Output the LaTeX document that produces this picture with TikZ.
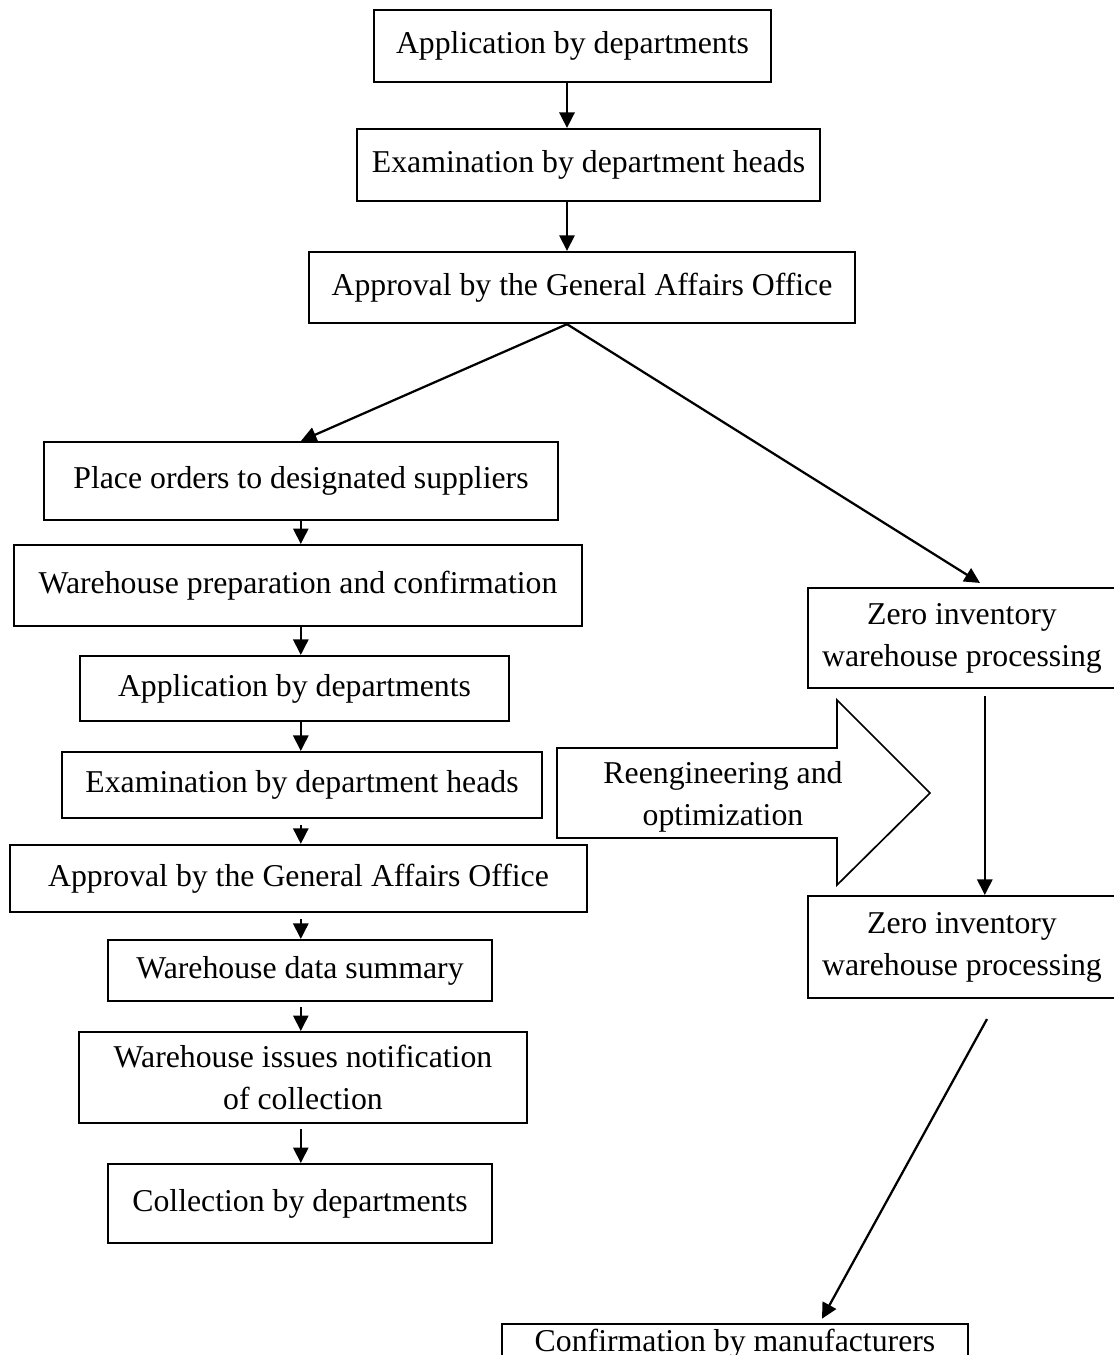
\documentclass[tikz,border=0pt]{standalone}
\usepackage{fontspec}
\setmainfont{Liberation Serif}
\usepackage{tikz}
\usetikzlibrary{arrows.meta, positioning, calc}

\tikzset{
    stepbox/.style={draw=black, line width=0.75pt, align=center, inner sep=2pt},
    flow/.style={-{Triangle[length=5.5pt, width=5.4pt]}, line width=0.8pt},
}

\begin{document}
\begin{tikzpicture}[font=\fontsize{11.3pt}{15pt}\selectfont]
                \useasboundingbox (0,0) rectangle (13.925,-16.9375);

                % --- Old process (top) ---
                \node[stepbox, minimum width=4.96cm, minimum height=0.9cm] (app) at (7.156,-0.57) {Application by departments};
                \node[stepbox, minimum width=5.79cm, minimum height=0.9cm] (exam) at (7.356,-2.0625) {Examination by department heads};
                \node[stepbox, minimum width=6.825cm, minimum height=0.89cm] (appr) at (7.275,-3.594) {Approval by the General Affairs Office};
                \coordinate (topcol) at (7.0875,0);

                \draw[flow] (topcol |- app.south) -- (topcol |- exam.north);
                \draw[flow] (topcol |- exam.south) -- (topcol |- appr.north);

                % --- Left column ---
                \node[stepbox, minimum width=6.425cm, minimum height=0.975cm] (place) at (3.7625,-6.0125) {Place orders to designated suppliers};
                \node[stepbox, minimum width=7.1cm, minimum height=1.0125cm] (prep) at (3.725,-7.319) {Warehouse preparation and confirmation};
                \node[stepbox, minimum width=5.3625cm, minimum height=0.8125cm] (app2) at (3.681,-8.606) {Application by departments};
                \node[stepbox, minimum width=6.0cm, minimum height=0.825cm] (exam2) at (3.775,-9.8125) {Examination by department heads};
                \node[stepbox, minimum width=7.2125cm, minimum height=0.8375cm] (appr2) at (3.731,-10.98) {Approval by the General Affairs Office};
                \node[stepbox, minimum width=4.8cm, minimum height=0.7625cm] (summ) at (3.75,-12.131) {Warehouse data summary};
                \node[stepbox, minimum width=5.6cm, minimum height=1.1375cm] (notif) at (3.7875,-13.469) {Warehouse issues notification\\of collection};
                \node[stepbox, minimum width=4.8cm, minimum height=0.9875cm] (coll) at (3.75,-15.044) {Collection by departments};
                \coordinate (leftcol) at (3.76,0);

                \draw[flow] (leftcol |- place.south) -- (leftcol |- prep.north);
                \draw[flow] (leftcol |- prep.south) -- (leftcol |- app2.north);
                \draw[flow] (leftcol |- app2.south) -- (leftcol |- exam2.north);
                \draw[flow] ($(leftcol |- exam2.south)+(0,-0.08)$) -- (leftcol |- appr2.north);
                \draw[flow] ($(leftcol |- appr2.south)+(0,-0.08)$) -- (leftcol |- summ.north);
                \draw[flow] ($(leftcol |- summ.south)+(0,-0.06)$) -- (leftcol |- notif.north);
                \draw[flow] ($(leftcol |- notif.south)+(0,-0.06)$) -- (leftcol |- coll.north);

                % --- Right column (zero inventory) ---
                \node[stepbox, minimum width=3.85cm, minimum height=1.25cm] (zr1) at (12.025,-7.975) {Zero inventory\\warehouse processing};
                \node[stepbox, minimum width=3.85cm, minimum height=1.275cm] (zr2) at (12.025,-11.8375) {Zero inventory\\warehouse processing};
                \node[stepbox, minimum width=5.825cm, minimum height=0.5cm] (conf) at (9.1875,-16.8) {Confirmation by manufacturers};
                \coordinate (zcol) at (12.31,0);
                \coordinate (zin) at ($(zr1.north)+(0.225,0.05)$);
                \coordinate (zout) at ($(zr2.south)+(0.3125,-0.25)$);
                \coordinate (cin) at ($(conf.north)+(1.0875,0.05)$);

                \draw[flow] (topcol |- appr.south) -- (place.north);
                \draw[flow] (topcol |- appr.south) -- (zin);
                \draw[flow] ($(zcol |- zr1.south)+(0,-0.09)$) -- (zcol |- zr2.north);
                \draw[flow] (zout) -- (cin);

                % --- Big block arrow ---
                \draw[line width=0.6pt] (6.9625,-9.35) -- (10.4625,-9.35) -- (10.4625,-8.75) -- (11.625,-9.9125)
                    -- (10.4625,-11.0625) -- (10.4625,-10.475) -- (6.9625,-10.475) -- cycle;
                \node[align=center] (reeng) at (9.0375,-9.96) {Reengineering and\\optimization};
\end{tikzpicture}
\end{document}
